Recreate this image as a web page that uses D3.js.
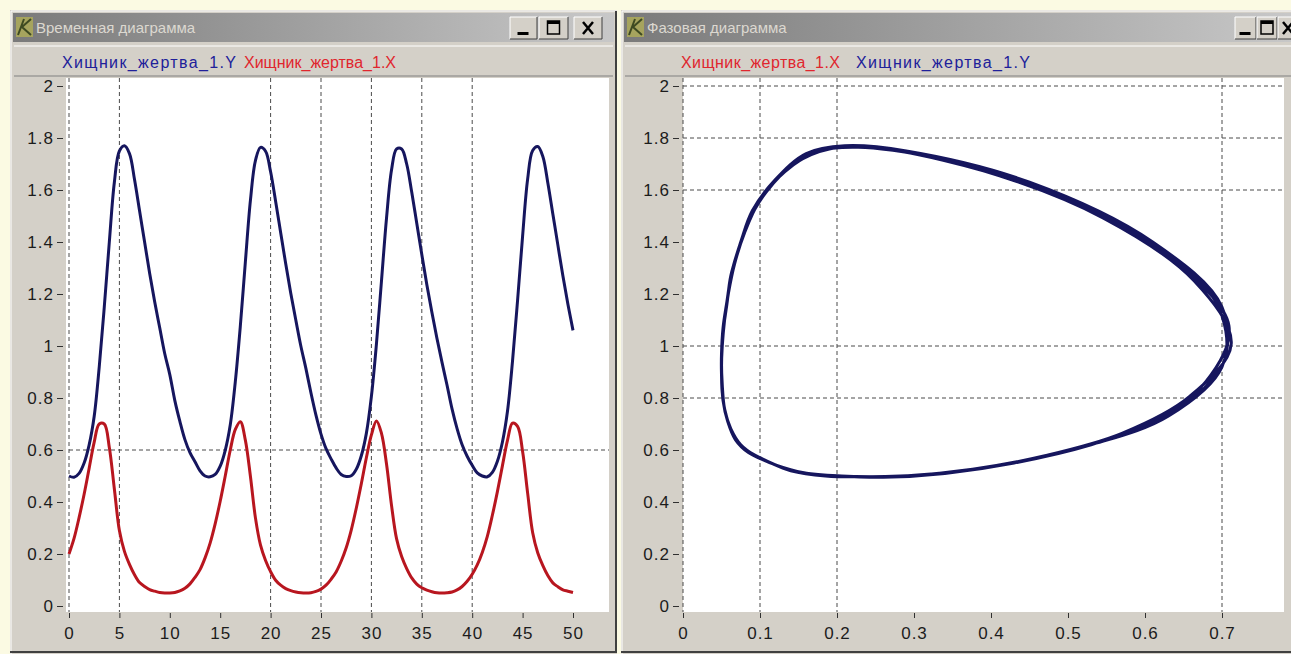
<!DOCTYPE html>
<html>
<head>
<meta charset="utf-8">
<script src="https://cdn.jsdelivr.net/npm/d3@7"></script>
<style>
  body { margin: 0; background: #fbfae3; }
  svg { display: block; font-family: "Liberation Sans", Arial, sans-serif; }
</style>
</head>
<body>
<svg id="chart" width="1291" height="654"></svg>
<script>
// model output, one sample every 0.5 time units (t = 0 .. 50)
const timeStep = 0.5;

// Хищник_жертва_1.X (red)
const preyX = [
  0.200, 0.260, 0.340, 0.430, 0.530, 0.630, 0.700, 0.700, 0.610, 0.450,
  0.290, 0.210, 0.160, 0.120, 0.090, 0.075, 0.063, 0.057, 0.052, 0.050,
  0.050, 0.052, 0.058, 0.068, 0.085, 0.110, 0.140, 0.185,
  0.242, 0.316, 0.403, 0.500, 0.600, 0.679, 0.709, 0.637, 0.498, 0.338,
  0.234, 0.175, 0.132, 0.099, 0.080, 0.067, 0.059, 0.054, 0.051, 0.050,
  0.051, 0.056, 0.065, 0.080, 0.103, 0.131, 0.172,
  0.224, 0.292, 0.376, 0.470, 0.570, 0.658, 0.712, 0.664, 0.546, 0.386,
  0.258, 0.190, 0.144, 0.108, 0.084, 0.070, 0.061, 0.055, 0.051, 0.050,
  0.051, 0.054, 0.062, 0.075, 0.095, 0.122, 0.158,
  0.206, 0.268, 0.349, 0.440, 0.540, 0.637, 0.703, 0.691, 0.594, 0.434,
  0.282, 0.205, 0.156, 0.117, 0.089, 0.074, 0.062, 0.057, 0.052
];

// Хищник_жертва_1.Y (blue)
const predatorY = [
  0.500, 0.495, 0.510, 0.550, 0.620, 0.730, 0.920, 1.150, 1.400, 1.630,
  1.750, 1.770, 1.740, 1.640, 1.520, 1.400, 1.280, 1.170, 1.070, 0.970,
  0.890, 0.790, 0.710, 0.640, 0.590, 0.555, 0.520, 0.500,
  0.497, 0.506, 0.538, 0.599, 0.697, 0.863, 1.078, 1.325, 1.561, 1.714,
  1.764, 1.749, 1.670, 1.556, 1.436, 1.316, 1.203, 1.100, 1.000, 0.914,
  0.820, 0.734, 0.661, 0.605, 0.566, 0.531, 0.506,
  0.498, 0.501, 0.526, 0.578, 0.664, 0.806, 1.008, 1.250, 1.492, 1.678,
  1.758, 1.758, 1.700, 1.592, 1.472, 1.352, 1.236, 1.130, 1.030, 0.938,
  0.850, 0.758, 0.682, 0.620, 0.576, 0.541, 0.512,
  0.500, 0.497, 0.514, 0.557, 0.631, 0.749, 0.942, 1.175, 1.423, 1.642,
  1.752, 1.767, 1.730, 1.628, 1.508, 1.388, 1.269, 1.160, 1.060
];

const nameX = "Хищник_жертва_1.X";
const nameY = "Хищник_жертва_1.Y";
const timeTitle = "Временная диаграмма";
const phaseTitle = "Фазовая диаграмма";

const timeTicks = [0, 5, 10, 15, 20, 25, 30, 35, 40, 45, 50];
const valueTicks = [0, 0.2, 0.4, 0.6, 0.8, 1, 1.2, 1.4, 1.6, 1.8, 2];
const phaseTicks = [0, 0.1, 0.2, 0.3, 0.4, 0.5, 0.6, 0.7];

// the dashed grid lines that are visible in each window
const timeGridV = [0, 5, 20, 25, 30, 35, 40];
const timeGridH = [0.6];
const phaseGridV = [0, 0.1, 0.2, 0.7];
const phaseGridH = [0.8, 1, 1.6, 1.8, 2];

const timeData = preyX.map((x, i) => ({ t: i * timeStep, x: x, y: predatorY[i] }));

const blue = "#16165e";
const red = "#b8161f";
const gridColor = "#4a4a4a";
const face = "#d4d0c8";

const svg = d3.select("#chart");
const defs = svg.append("defs");
const grad = defs.append("linearGradient").attr("id", "titleGrad");
grad.append("stop").attr("offset", "0%").attr("stop-color", "#7a7a7a");
grad.append("stop").attr("offset", "100%").attr("stop-color", "#c8c8c8");

function drawButton(g, x, w, kind) {
    const y = 17, h = 22;
    g.append("rect").attr("x", x).attr("y", y).attr("width", w).attr("height", h).attr("fill", face);
    g.append("path").attr("d", `M${x},${y + h} V${y} H${x + w}`).attr("stroke", "#fff").attr("fill", "none");
    g.append("path").attr("d", `M${x},${y + h} H${x + w} V${y}`).attr("stroke", "#404040").attr("fill", "none");
    const cx = x + w / 2, cy = y + h / 2;
    if (kind === "min") {
        g.append("rect").attr("x", cx - 6).attr("y", cy + 4).attr("width", 11).attr("height", 3).attr("fill", "#000");
    } else if (kind === "max") {
        g.append("rect").attr("x", cx - 6).attr("y", cy - 7).attr("width", 12).attr("height", 13)
            .attr("fill", "none").attr("stroke", "#000").attr("stroke-width", 1.5);
        g.append("rect").attr("x", cx - 6).attr("y", cy - 7).attr("width", 12).attr("height", 3).attr("fill", "#000");
    } else {
        g.append("path").attr("d", `M${cx - 5},${cy - 6} L${cx + 5},${cy + 6} M${cx + 5},${cy - 6} L${cx - 5},${cy + 6}`)
            .attr("stroke", "#000").attr("stroke-width", 2.5);
    }
}

function drawWindow(x0, x1, title, buttons) {
    const g = svg.append("g");
    g.append("rect").attr("x", x0).attr("y", 10).attr("width", x1 - x0).attr("height", 660).attr("fill", face);
    g.append("path").attr("d", `M${x0 + 1},670 V11 H${x1}`).attr("stroke", "#fff").attr("fill", "none");
    g.append("path").attr("d", `M${x1 - 1},11 V652 H${x0}`).attr("stroke", "#404040").attr("stroke-width", 2).attr("fill", "none");
    g.append("rect").attr("x", x0 + 3).attr("y", 13).attr("width", x1 - x0 - 6).attr("height", 29)
        .attr("fill", "url(#titleGrad)");
    // window icon
    g.append("rect").attr("x", x0 + 6).attr("y", 17).attr("width", 17).attr("height", 20).attr("fill", "#a6a45e");
    g.append("path").attr("d", `M${x0 + 8},35 L${x0 + 14},19 M${x0 + 12},27 L${x0 + 21},35 M${x0 + 12},27 L${x0 + 21},19`)
        .attr("stroke", "#3e4a22").attr("stroke-width", 2).attr("fill", "none");
    g.append("text").attr("x", x0 + 26).attr("y", 33).attr("fill", "#dcd8d0")
        .style("font-size", "15px").text(title);
    buttons.forEach(b => drawButton(g, b[0], b[1], b[2]));
    // legend band
    g.append("line").attr("x1", x0 + 4).attr("x2", x1 - 4).attr("y1", 46).attr("y2", 46).attr("stroke", "#fff");
    g.append("line").attr("x1", x0 + 4).attr("x2", x1 - 4).attr("y1", 76).attr("y2", 76).attr("stroke", "#808080");
    return g;
}

function drawLegend(g, items) {
    items.forEach(it => {
        g.append("text").attr("x", it.x).attr("y", 68).attr("fill", it.color)
            .attr("textLength", it.w).attr("lengthAdjust", "spacing")
            .style("font-size", "16px").text(it.name);
    });
}

function drawGrid(g, x, y, vals, horizontal) {
    vals.forEach(v => {
        const line = g.append("line").attr("stroke", gridColor).attr("stroke-dasharray", "4,3");
        if (horizontal) line.attr("x1", x.range()[0]).attr("x2", 2000).attr("y1", y(v)).attr("y2", y(v));
        else line.attr("x1", x(v)).attr("x2", x(v)).attr("y1", 78).attr("y2", 612);
    });
}

function styleAxis(a) {
    a.select(".domain").remove();
    a.selectAll("line").attr("stroke", "#303030");
    a.selectAll("text").attr("fill", "#1c1c1c").style("font-size", "17px").style("letter-spacing", "1px");
}

const fmt = d3.format("~g");

// ---------- time diagram ----------
const left = drawWindow(10, 617, timeTitle, [[510, 27, "min"], [539, 29, "max"], [574, 28, "close"]]);
drawLegend(left, [
    { name: nameY, color: "#20209a", x: 62, w: 174 },
    { name: nameX, color: "#e0262e", x: 244, w: 152 }
]);

const xT = d3.scaleLinear().domain([0, 50]).range([69, 573]);
const yV = d3.scaleLinear().domain([0, 2]).range([606, 86]);

left.append("rect").attr("x", 66).attr("y", 78).attr("width", 543).attr("height", 534).attr("fill", "#fff");
const leftPlot = left.append("g");
leftPlot.append("clipPath").attr("id", "clipL")
    .append("rect").attr("x", 66).attr("y", 78).attr("width", 543).attr("height", 534);
const lg = leftPlot.append("g").attr("clip-path", "url(#clipL)");
drawGrid(lg, xT, yV, timeGridV, false);
drawGrid(lg, xT, yV, timeGridH, true);

const smooth = d3.curveCatmullRom.alpha(0.5);
lg.append("path").datum(timeData)
    .attr("d", d3.line().x(d => xT(d.t)).y(d => yV(d.y)).curve(smooth))
    .attr("fill", "none").attr("stroke", blue).attr("stroke-width", 3);
lg.append("path").datum(timeData)
    .attr("d", d3.line().x(d => xT(d.t)).y(d => yV(d.x)).curve(smooth))
    .attr("fill", "none").attr("stroke", red).attr("stroke-width", 3);

left.append("g").attr("transform", "translate(63,0)")
    .call(d3.axisLeft(yV).tickValues(valueTicks).tickSize(6).tickPadding(3).tickFormat(fmt))
    .call(styleAxis);
left.append("g").attr("transform", "translate(0,613)")
    .call(d3.axisBottom(xT).tickValues(timeTicks).tickSize(5).tickPadding(9).tickFormat(fmt))
    .call(styleAxis);

// ---------- phase diagram ----------
const right = drawWindow(621, 1300, phaseTitle, [[1235, 21, "min"], [1257, 20, "max"], [1278, 20, "close"]]);
drawLegend(right, [
    { name: nameX, color: "#e0262e", x: 681, w: 159 },
    { name: nameY, color: "#20209a", x: 856, w: 174 }
]);

const xP = d3.scaleLinear().domain([0, 0.7]).range([683, 1222]);
const yP = d3.scaleLinear().domain([0, 2]).range([606, 86]);

right.append("rect").attr("x", 683).attr("y", 78).attr("width", 601).attr("height", 534).attr("fill", "#fff");
right.append("clipPath").attr("id", "clipR")
    .append("rect").attr("x", 680).attr("y", 78).attr("width", 604).attr("height", 534);
const rg = right.append("g").attr("clip-path", "url(#clipR)");
drawGrid(rg, xP, yP, phaseGridV, false);
drawGrid(rg, xP, yP, phaseGridH, true);

rg.append("path").datum(timeData)
    .attr("d", d3.line().x(d => xP(d.x)).y(d => yP(d.y)).curve(smooth))
    .attr("fill", "none").attr("stroke", blue).attr("stroke-width", 3);

right.append("g").attr("transform", "translate(679,0)")
    .call(d3.axisLeft(yP).tickValues(valueTicks).tickSize(6).tickPadding(3).tickFormat(fmt))
    .call(styleAxis);
right.append("g").attr("transform", "translate(0,613)")
    .call(d3.axisBottom(xP).tickValues(phaseTicks).tickSize(5).tickPadding(9).tickFormat(fmt))
    .call(styleAxis);
</script>
</body>
</html>
